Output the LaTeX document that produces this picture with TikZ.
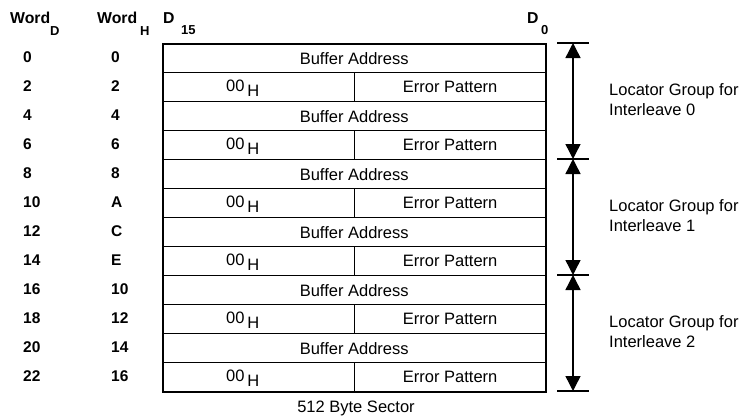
\documentclass[tikz,border=0pt]{standalone}
\usepackage{fontspec}
\setmainfont{Liberation Sans}
\usetikzlibrary{arrows.meta}
\begin{document}
\begin{tikzpicture}[x=1pt,y=-1pt,
  txt/.style={inner sep=0pt,font=\fontsize{16.5}{19.5}\selectfont},
  num/.style={anchor=west,inner sep=0pt,font=\bfseries\fontsize{15.5}{17}\selectfont},
  hdr/.style={anchor=base west,inner sep=0pt,font=\bfseries\fontsize{15.8}{17}\selectfont},
  subs/.style={anchor=base west,inner sep=0pt,font=\bfseries\fontsize{13}{14}\selectfont},
  cellbase/.style={draw,line width=1.4pt,minimum height=29pt,inner sep=0pt,anchor=north west,txt},
  cellfull/.style={cellbase,minimum width=383pt},
  cellleft/.style={cellbase,minimum width=192pt},
  cellright/.style={cellbase,minimum width=191pt},
  tick/.style={line width=1.6pt},
  span/.style={line width=1.4pt,{Triangle[width=15pt,length=15pt]}-{Triangle[width=15pt,length=15pt]}},
]
% page area
\fill[white] (0,0) rectangle (741,418);
\useasboundingbox (0,0) rectangle (741,418);

% column headers
\node[hdr]  (hwd)  at (10,23)  {Word};
\node[subs] (hwds) at (50,35)  {D};
\node[hdr]  (hwh)  at (97,23)  {Word};
\node[subs] (hwhs) at (140,35) {H};
\node[hdr]  (hdf)  at (163,23) {D};
\node[subs] (hdfs) at (181,34) {15};
\node[hdr]  (hdz)  at (527,23) {D};
\node[subs] (hdzs) at (541,34) {0};

% word numbers and sector rows
\foreach \d/\h [count=\i from 0] in {0/0,2/2,4/4,6/6,8/8,10/A,12/C,14/E,16/10,18/12,20/14,22/16} {
  \pgfmathsetmacro\ytop{43+29*\i}
  \pgfmathsetmacro\yc{57.5+29*\i}
  \node[num] (wd\i) at (23,\yc) {\d};
  \node[num] (wh\i) at (111,\yc) {\h};
  \ifodd\i\relax
    \node[cellleft]  (rl\i) at (162,\ytop) {};
    \node[cellright] (rr\i) at (354,\ytop) {Error Pattern};
    \node[txt] (hx\i) at ([xshift=-16pt,yshift=-1pt]rl\i.center) {00\,\raisebox{-5pt}{H}};
  \else
    \node[cellfull] (rf\i) at (162,\ytop) {Buffer Address};
  \fi
}

% outer frame of the sector
\node[draw,line width=2pt,minimum width=383pt,minimum height=348pt,inner sep=0pt,anchor=north west] (frame) at (162,43) {};
\node[txt] (cap) at (356,408) {512 Byte Sector};

% locator group spans
\foreach \k in {0,...,3} {
  \coordinate (g\k) at (573,43+116*\k);
  \draw[tick] ([xshift=-16pt]g\k) -- ([xshift=16pt]g\k);
}
\draw[span] (g0) -- (g1);
\draw[span] (g1) -- (g2);
\draw[span] (g2) -- (g3);

\node[txt,anchor=west,align=left] (lab0) at (609,99.5)  {Locator Group for\\Interleave 0};
\node[txt,anchor=west,align=left] (lab1) at (609,215.5) {Locator Group for\\Interleave 1};
\node[txt,anchor=west,align=left] (lab2) at (609,331.5) {Locator Group for\\Interleave 2};
\end{tikzpicture}
\end{document}
